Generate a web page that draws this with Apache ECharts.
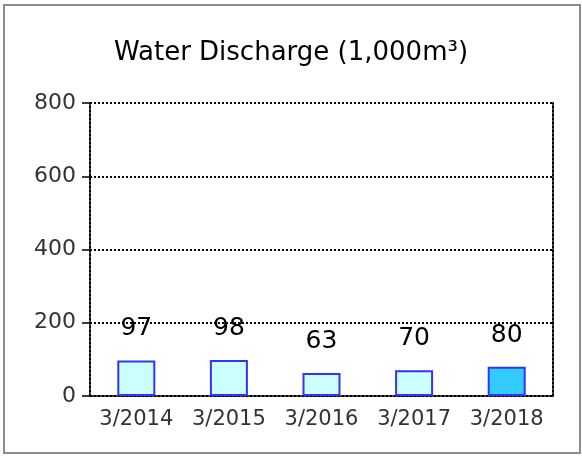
<!DOCTYPE html>
<html>
<head>
<meta charset="utf-8">
<script src="https://cdn.jsdelivr.net/npm/echarts@6/dist/echarts.min.js"></script>
<style>
	html, body { margin: 0; padding: 0; background: #fff; }
	#chart { width: 582px; height: 457px; }
</style>
</head>
<body>
<div id="chart"></div>
<script>
	// 数据
	var categories = ['3/2014', '3/2015', '3/2016', '3/2017', '3/2018'];
	var discharge = [97, 98, 63, 70, 80];
	var yTicks = [0, 200, 400, 600, 800];

	var font = '"DejaVu Sans", Verdana, sans-serif';
	var dots = { color: '#000', type: [2, 2], width: 2 };
	var chart = echarts.init(document.getElementById('chart'));

	chart.setOption({
		animation: false,
		title: {
			text: 'Water Discharge (1,000m\u00b3)',
			left: 'center',
			top: 35,
			textStyle: { fontFamily: font, fontSize: 26, fontWeight: 'normal', color: '#000' }
		},
		graphic: [{
			type: 'rect',
			shape: { x: 4, y: 5, width: 576, height: 448 },
			style: { fill: 'none', stroke: '#8c8c8c', lineWidth: 2 }
		}],
		grid: { left: 90, right: 29, top: 103, bottom: 61 },
		xAxis: {
			type: 'category',
			data: categories,
			axisLine: { lineStyle: dots },
			axisTick: { length: 6, lineStyle: { color: '#999' } },
			axisLabel: { interval: 0, fontFamily: font, fontSize: 21, color: '#333', margin: 13 }
		},
		yAxis: [{
			type: 'value',
			min: yTicks[0],
			max: yTicks[yTicks.length - 1],
			interval: 200,
			axisLine: { show: true, lineStyle: dots },
			axisTick: { show: true, length: 8, lineStyle: { color: '#000', width: 1.5 } },
			axisLabel: { fontFamily: font, fontSize: 22, color: '#333', margin: 14 },
			splitLine: { lineStyle: dots }
		}, {
			type: 'value',
			position: 'right',
			min: 0,
			max: 800,
			interval: 200,
			axisLine: { show: true, lineStyle: dots },
			axisTick: { show: false },
			axisLabel: { show: false },
			splitLine: { show: false }
		}],
		series: [{
			type: 'bar',
			data: discharge.map(function (v, i) {
				return {
					value: v,
					itemStyle: { color: i === discharge.length - 1 ? '#33ccff' : '#ccffff' }
				};
			}),
			barWidth: 38,
			itemStyle: { borderColor: '#3333ff', borderWidth: 2 },
			label: {
				show: true,
				position: 'top',
				distance: 19,
				fontFamily: font,
				fontSize: 25,
				color: '#000'
			}
		}]
	});
</script>
</body>
</html>
